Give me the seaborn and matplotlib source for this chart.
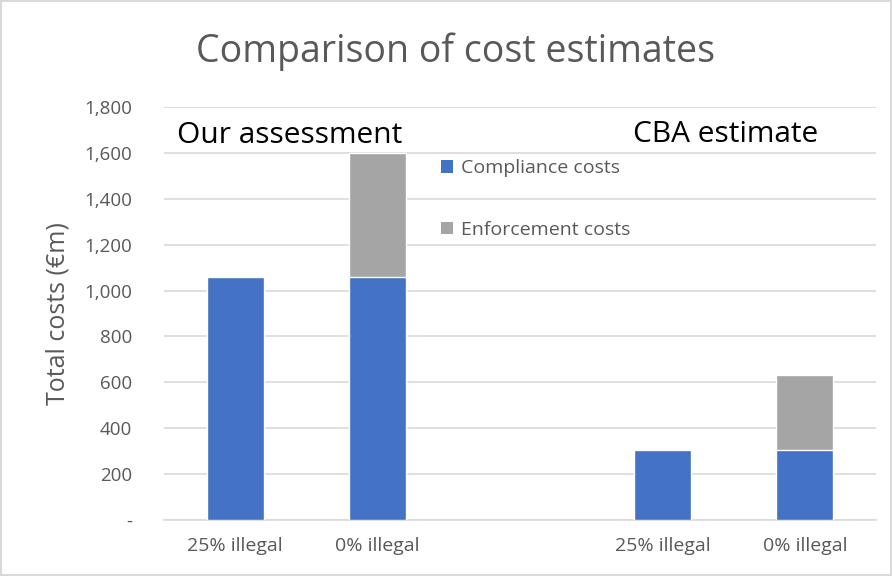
import matplotlib
matplotlib.use("Agg")
import matplotlib.pyplot as plt
import seaborn as sns
import pandas as pd
import numpy as np
from matplotlib.patches import Patch

# Data
slots = ["a25", "a0", "gap", "c25", "c0"]
tick_labels = ["25% illegal", "0% illegal", "", "25% illegal", "0% illegal"]
compliance = [1060, 1060, np.nan, 305, 305]
enforcement = [0, 540, np.nan, 0, 326]
yticks = [0, 200, 400, 600, 800, 1000, 1200, 1400, 1600, 1800]
ytick_labels = ["-", "200", "400", "600", "800", "1,000", "1,200", "1,400", "1,600", "1,800"]

df = pd.DataFrame({"slot": slots, "compliance": compliance, "enforcement": enforcement})
df["total"] = df["compliance"] + df["enforcement"]

sns.set_theme(style="white")
plt.rcParams["font.family"] = ["Open Sans", "DejaVu Sans"]

BLUE = "#4472C4"
GRAY = "#A5A5A5"
TXT = "#595959"

fig = plt.figure(figsize=(8.92, 5.76), dpi=100)
ax = fig.add_axes([0.1836, 0.0972, 0.9823 - 0.1836, 0.8142 - 0.0972])

sns.barplot(data=df, x="slot", y="total", order=slots, color=GRAY, width=0.4,
            saturation=1, ax=ax, zorder=3)
sns.barplot(data=df, x="slot", y="compliance", order=slots, color=BLUE, width=0.4,
            saturation=1, ax=ax, zorder=4)

ax.set_xlim(-0.5, 4.5)
ax.set_ylim(0, 1800)
ax.set_yticks(yticks)
ax.set_yticklabels(ytick_labels, color=TXT, fontsize=13.5)
ax.set_xticks(range(len(slots)))
ax.set_xticklabels(tick_labels, color=TXT, fontsize=14)
ax.tick_params(axis="both", length=0)
ax.tick_params(axis="x", pad=12)
ax.tick_params(axis="y", pad=23)
ax.grid(axis="y", color="#D9D9D9", linewidth=1.2, zorder=0)
ax.set_axisbelow(True)
for s in ["top", "right", "left"]:
    ax.spines[s].set_visible(False)
ax.spines["bottom"].set_color("#D9D9D9")
ax.spines["bottom"].set_linewidth(1.2)
ax.set_xlabel("")
ax.set_ylabel("Total costs (€m)", color=TXT, fontsize=18, va="center")
ax.yaxis.set_label_coords(-0.148, 0.499)

fig.text(0.5107, 1 - 62 / 576, "Comparison of cost estimates", ha="center", va="baseline",
         fontsize=27, color=TXT)
ax.text(-0.407, 1642, "Our assessment", ha="left", va="baseline",
        fontsize=21.5, color="black")
ax.text(2.793, 1646, "CBA estimate", ha="left", va="baseline",
        fontsize=21.5, color="black")

handles = [Patch(facecolor=BLUE, edgecolor="none"), Patch(facecolor=GRAY, edgecolor="none")]
leg = ax.legend(handles, ["Compliance costs", "Enforcement costs"], loc="upper left",
                bbox_to_anchor=(0.389, 0.874), frameon=False, fontsize=14,
                handlelength=0.62, handleheight=0.62, handletextpad=0.4,
                labelspacing=2.25, borderaxespad=0, borderpad=0)
for t in leg.get_texts():
    t.set_color(TXT)

fig.patch.set_edgecolor("#D9D9D9")
fig.patch.set_linewidth(1.5)

fig.savefig("out.png", dpi=100)
